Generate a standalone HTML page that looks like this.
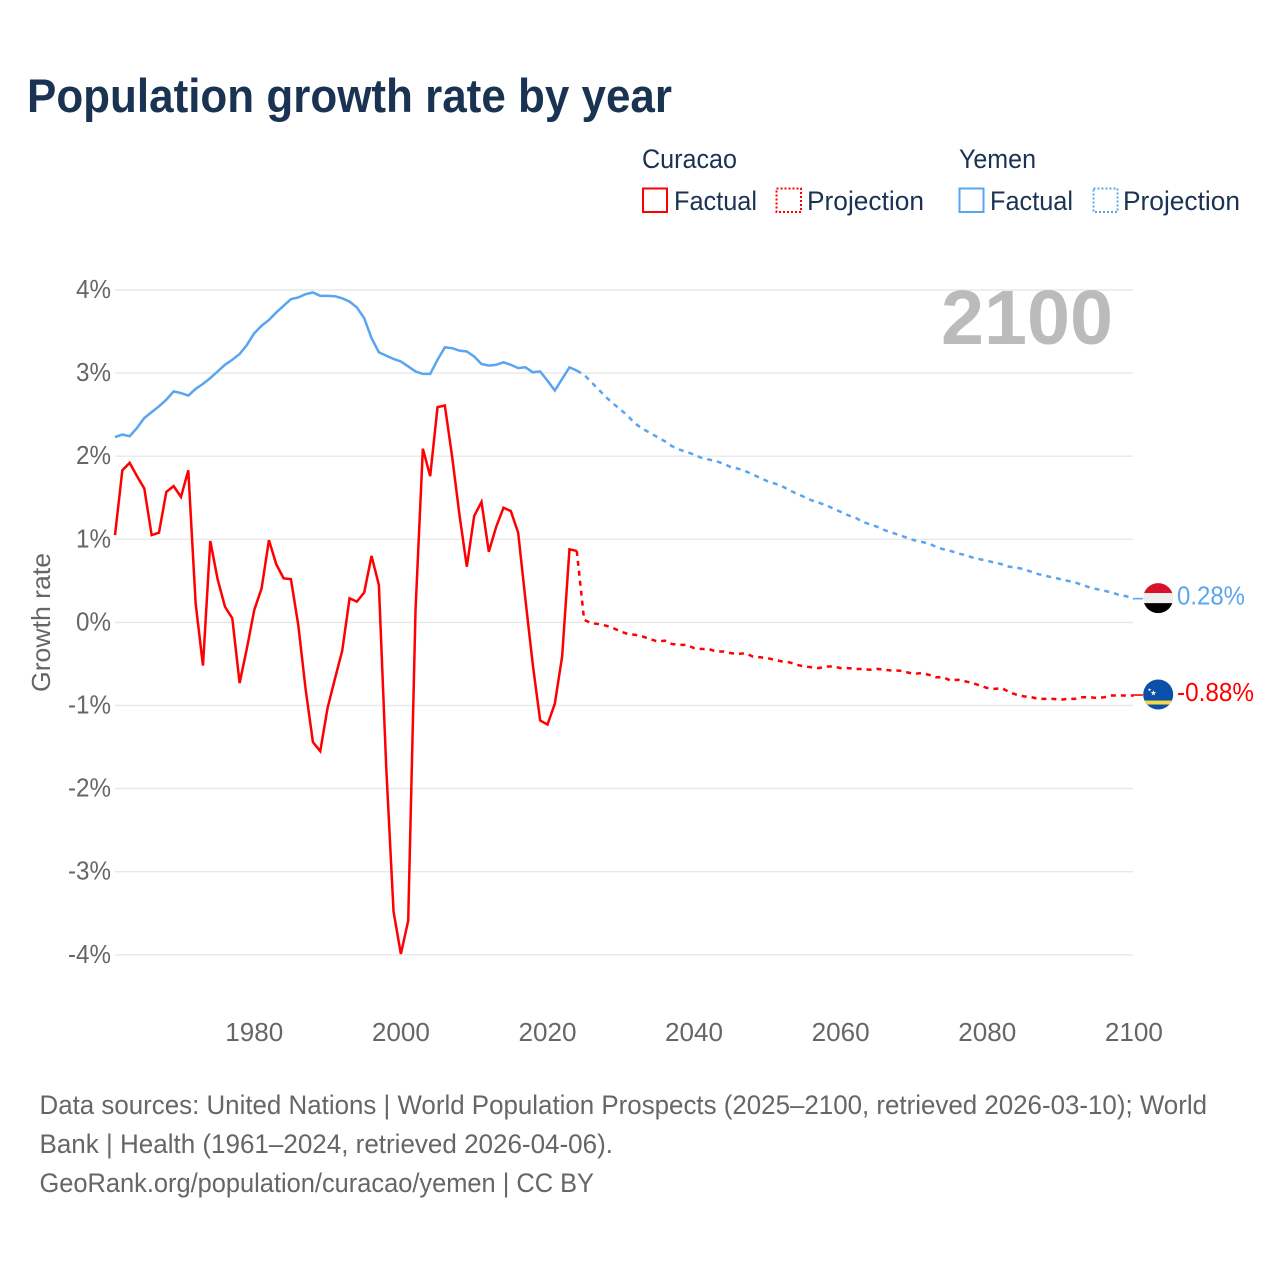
<!DOCTYPE html>
<html lang="en">
<head>
<meta charset="utf-8">
<title>Population growth rate by year</title>
<style>
html,body{margin:0;padding:0;background:#fff;}
svg{display:block;font-family:"Liberation Sans",sans-serif;}
</style>
</head>
<body>
<svg id="chart" xmlns="http://www.w3.org/2000/svg" width="1280" height="1280" viewBox="0 0 1280 1280">
  <rect x="0" y="0" width="1280" height="1280" fill="#ffffff"/>
  <text x="27" y="112" font-size="47" font-weight="700" fill="#1a3352" textLength="645" lengthAdjust="spacingAndGlyphs">Population growth rate by year</text>

  <g font-size="27" fill="#1a3352">
    <text x="642" y="168" textLength="95" lengthAdjust="spacingAndGlyphs">Curacao</text>
    <text x="959" y="168" textLength="77" lengthAdjust="spacingAndGlyphs">Yemen</text>
    <g>
      <rect x="643" y="188.5" width="24" height="23.5" fill="none" stroke="#ff0000" stroke-width="2"/>
      <text x="674" y="210" textLength="83" lengthAdjust="spacingAndGlyphs">Factual</text>
    </g>
    <g>
      <rect x="776.5" y="188.5" width="24.5" height="23.5" fill="none" stroke="#ff0000" stroke-width="2" stroke-dasharray="2 2"/>
      <text x="807" y="210" textLength="117" lengthAdjust="spacingAndGlyphs">Projection</text>
    </g>
    <g>
      <rect x="959.5" y="188.5" width="24" height="23.5" fill="none" stroke="#5aa5ef" stroke-width="2"/>
      <text x="990" y="210" textLength="83" lengthAdjust="spacingAndGlyphs">Factual</text>
    </g>
    <g>
      <rect x="1093.5" y="188.5" width="24" height="23.5" fill="none" stroke="#5aa5ef" stroke-width="2" stroke-dasharray="2 2"/>
      <text x="1123" y="210" textLength="117" lengthAdjust="spacingAndGlyphs">Projection</text>
    </g>
  </g>

  <g id="grid"></g>
  <g id="ytick-labels"></g>
  <g id="xtick-labels"></g>
  <text transform="translate(50 622.5) rotate(-90)" text-anchor="middle" font-size="26" fill="#666666" textLength="139" lengthAdjust="spacingAndGlyphs">Growth rate</text>
  <text x="941" y="344" font-size="77" font-weight="700" fill="#bbbbbb" textLength="172" lengthAdjust="spacingAndGlyphs">2100</text>

  <g id="series"></g>
  <g id="endpoints"></g>

  <g font-size="27" fill="#666666">
    <text x="39.5" y="1114" textLength="1167.5" lengthAdjust="spacingAndGlyphs">Data sources: United Nations | World Population Prospects (2025–2100, retrieved 2026-03-10); World</text>
    <text x="39.5" y="1153" textLength="573.5" lengthAdjust="spacingAndGlyphs">Bank | Health (1961–2024, retrieved 2026-04-06).</text>
    <text x="39.5" y="1192" textLength="554.5" lengthAdjust="spacingAndGlyphs">GeoRank.org/population/curacao/yemen | CC BY</text>
  </g>
</svg>
<script>
const firstYear = 1961;
const yTicks = [4, 3, 2, 1, 0, -1, -2, -3, -4];
const xTicks = [1980, 2000, 2020, 2040, 2060, 2080, 2100];
const curacaoFactual = [1.05,1.83,1.92,1.76,1.61,1.05,1.08,1.57,1.64,1.51,1.83,0.23,-0.52,0.98,0.52,0.19,0.05,-0.73,-0.31,0.15,0.41,0.99,0.70,0.53,0.52,-0.03,-0.80,-1.44,-1.55,-1.03,-0.68,-0.34,0.29,0.25,0.36,0.80,0.45,-1.74,-3.48,-3.99,-3.59,0.15,2.09,1.76,2.59,2.61,1.99,1.29,0.67,1.28,1.45,0.85,1.15,1.38,1.34,1.08,0.27,-0.51,-1.18,-1.23,-0.98,-0.41,0.88,0.86];
const curacaoProjection = [0.03,-0.01,-0.02,-0.04,-0.07,-0.11,-0.14,-0.15,-0.17,-0.20,-0.23,-0.22,-0.26,-0.27,-0.27,-0.31,-0.32,-0.32,-0.35,-0.35,-0.37,-0.38,-0.37,-0.41,-0.42,-0.43,-0.45,-0.47,-0.48,-0.51,-0.53,-0.54,-0.55,-0.53,-0.53,-0.55,-0.55,-0.56,-0.56,-0.57,-0.56,-0.57,-0.58,-0.58,-0.60,-0.62,-0.61,-0.63,-0.66,-0.66,-0.70,-0.69,-0.71,-0.73,-0.76,-0.79,-0.80,-0.79,-0.84,-0.87,-0.89,-0.90,-0.92,-0.92,-0.92,-0.93,-0.92,-0.92,-0.90,-0.90,-0.91,-0.90,-0.88,-0.88,-0.88,-0.88];
const yemenFactual = [2.23,2.26,2.24,2.34,2.46,2.53,2.60,2.68,2.78,2.76,2.73,2.81,2.87,2.94,3.02,3.10,3.16,3.23,3.34,3.48,3.57,3.64,3.73,3.81,3.89,3.91,3.95,3.97,3.93,3.93,3.925,3.90,3.86,3.79,3.66,3.42,3.25,3.21,3.17,3.14,3.08,3.02,2.99,2.99,3.16,3.31,3.30,3.27,3.26,3.20,3.11,3.09,3.10,3.13,3.10,3.06,3.07,3.01,3.02,2.91,2.79,2.93,3.07,3.03];
const yemenProjection = [2.98,2.89,2.80,2.71,2.63,2.56,2.48,2.39,2.33,2.28,2.23,2.18,2.12,2.08,2.05,2.02,1.98,1.96,1.94,1.91,1.87,1.85,1.82,1.78,1.74,1.70,1.67,1.64,1.59,1.55,1.51,1.47,1.44,1.41,1.37,1.33,1.29,1.26,1.21,1.18,1.15,1.11,1.08,1.05,1.02,0.99,0.97,0.95,0.91,0.88,0.86,0.83,0.81,0.78,0.76,0.74,0.72,0.70,0.67,0.66,0.64,0.61,0.58,0.56,0.54,0.52,0.50,0.48,0.45,0.42,0.40,0.38,0.36,0.33,0.315,0.28];

const NS = 'http://www.w3.org/2000/svg';
const xScale = function (year) { return 115 + (year - firstYear) * 7.33; };
const yScale = function (value) { return 622.4 - value * 83.1; };
const pathFrom = function (startYear, values) {
  return values.map(function (v, i) {
    return (i ? 'L' : 'M') + xScale(startYear + i).toFixed(2) + ' ' + yScale(v).toFixed(2);
  }).join(' ');
};
const make = function (tag, parent) {
  const el = document.createElementNS(NS, tag);
  parent.appendChild(el);
  return el;
};

const grid = document.getElementById('grid');
const yLabels = document.getElementById('ytick-labels');
yTicks.forEach(function (t) {
  const line = make('line', grid);
  
  
  line.setAttribute('x1', 115);
  line.setAttribute('x2', 1133);
  line.setAttribute('y1', yScale(t));
  line.setAttribute('y2', yScale(t));
  line.setAttribute('stroke', '#e8e8e8');
  line.setAttribute('stroke-width', 1.4);
  const label = make('text', yLabels);
  
  
  label.setAttribute('x', 111);
  label.setAttribute('y', yScale(t) + 8);
  label.setAttribute('text-anchor', 'end');
  label.setAttribute('font-size', 26);
  label.setAttribute('fill', '#666666');
  label.setAttribute('textLength', t < 0 ? 43 : 35);
  label.setAttribute('lengthAdjust', 'spacingAndGlyphs');
  label.textContent = t + '%';
});

const xLabels = document.getElementById('xtick-labels');
xTicks.forEach(function (t) {
  const label = make('text', xLabels);
  
  
  label.setAttribute('x', xScale(t));
  label.setAttribute('y', 1041);
  label.setAttribute('text-anchor', 'middle');
  label.setAttribute('font-size', 26);
  label.setAttribute('fill', '#666666');
  label.setAttribute('textLength', 58);
  label.setAttribute('lengthAdjust', 'spacingAndGlyphs');
  label.textContent = String(t);
});

const seriesGroup = document.getElementById('series');
const factualEndYear = firstYear + curacaoFactual.length - 1;
const lastYear = factualEndYear + curacaoProjection.length;
const drawSeries = function (name, color, factual, projection) {
  const solid = make('path', seriesGroup);
  
  
  solid.setAttribute('d', pathFrom(firstYear, factual));
  solid.setAttribute('fill', 'none');
  solid.setAttribute('stroke', color);
  solid.setAttribute('stroke-width', 2.5);
  const dashed = make('path', seriesGroup);
  
  
  dashed.setAttribute('d', pathFrom(factualEndYear, [factual[factual.length - 1]].concat(projection)));
  dashed.setAttribute('fill', 'none');
  dashed.setAttribute('stroke', color);
  dashed.setAttribute('stroke-width', 2.5);
  dashed.setAttribute('stroke-dasharray', '5 5');
  const last = projection[projection.length - 1];
  const connector = make('line', seriesGroup);
  
  
  connector.setAttribute('x1', xScale(lastYear));
  connector.setAttribute('x2', xScale(lastYear) + 9);
  connector.setAttribute('y1', yScale(last) - 0.5);
  connector.setAttribute('y2', yScale(last) - 0.5);
  connector.setAttribute('stroke', color);
  connector.setAttribute('stroke-width', 1.6);
};
drawSeries('curacao', '#ff0000', curacaoFactual, curacaoProjection);
drawSeries('yemen', '#5aa5ef', yemenFactual, yemenProjection);

const endpoints = document.getElementById('endpoints');
const drawValueLabel = function (name, color, value, width) {
  const label = make('text', endpoints);
  
  
  label.setAttribute('x', 1177);
  label.setAttribute('y', yScale(value) + 5.5);
  label.setAttribute('font-size', 26);
  label.setAttribute('fill', color);
  label.setAttribute('textLength', width);
  label.setAttribute('lengthAdjust', 'spacingAndGlyphs');
  label.textContent = value.toFixed(2) + '%';
};
const yemenEnd = yemenProjection[yemenProjection.length - 1];
const curacaoEnd = curacaoProjection[curacaoProjection.length - 1];
drawValueLabel('yemen', '#5aa5ef', yemenEnd, 68);
drawValueLabel('curacao', '#ff0000', curacaoEnd, 77);

const flagCircle = function (parent, cx, cy, r, fill) {
  const c = make('circle', parent);
  c.setAttribute('cx', cx);
  c.setAttribute('cy', cy);
  c.setAttribute('r', r);
  c.setAttribute('fill', fill);
  return c;
};
const flagBand = function (parent, clipId, cx, top, height, fill) {
  const r = make('rect', parent);
  r.setAttribute('x', cx - 16);
  r.setAttribute('y', top);
  r.setAttribute('width', 32);
  r.setAttribute('height', height);
  r.setAttribute('fill', fill);
  r.setAttribute('clip-path', 'url(#' + clipId + ')');
  return r;
};
const defs = make('defs', endpoints);
const flagCx = 1158.2;
const addClip = function (id, cy) {
  const cp = make('clipPath', defs);
  cp.setAttribute('id', id);
  flagCircle(cp, flagCx, cy, 15);
};

const yemenCy = yScale(yemenEnd) - 1;
addClip('clip-yemen', yemenCy);
const yemenFlag = make('g', endpoints);


flagBand(yemenFlag, 'clip-yemen', flagCx, yemenCy - 16, 11, '#d8102c');
flagBand(yemenFlag, 'clip-yemen', flagCx, yemenCy - 5, 10, '#eeeeee');
flagBand(yemenFlag, 'clip-yemen', flagCx, yemenCy + 5, 11, '#000000');

const curacaoCy = yScale(curacaoEnd) - 1;
addClip('clip-curacao', curacaoCy);
const curacaoFlag = make('g', endpoints);


flagCircle(curacaoFlag, flagCx, curacaoCy, 15, '#0a50a8');
flagBand(curacaoFlag, 'clip-curacao', flagCx, curacaoCy + 6, 4, '#f5d74a');
const star = function (cx, cy, r) {
  const pts = [];
  for (let i = 0; i < 10; i++) {
    const rad = i % 2 ? r * 0.4 : r;
    const a = -Math.PI / 2 + i * Math.PI / 5;
    pts.push((cx + rad * Math.cos(a)).toFixed(2) + ',' + (cy + rad * Math.sin(a)).toFixed(2));
  }
  const p = make('polygon', curacaoFlag);
  p.setAttribute('points', pts.join(' '));
  p.setAttribute('fill', '#f2f2f2');
};
star(flagCx - 4.8, curacaoCy - 1.5, 3);
star(flagCx - 8.6, curacaoCy - 4.8, 1.9);
</script>
</body>
</html>
